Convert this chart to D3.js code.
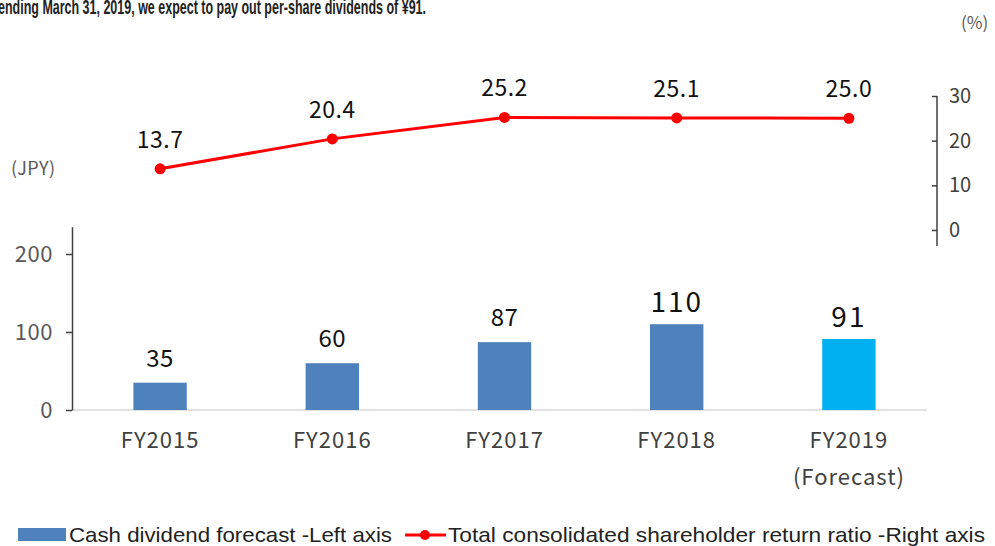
<!DOCTYPE html>
<html>
<head>
<meta charset="utf-8">
<script src="https://cdn.jsdelivr.net/npm/d3@7"></script>
<style>
  html, body { margin: 0; padding: 0; background: #fff; }
  svg { display: block; }
</style>
</head>
<body>
<div id="chart"></div>
<script>
const categories = ["FY2015", "FY2016", "FY2017", "FY2018", "FY2019"];
const categorySub = ["", "", "", "", "(Forecast)"];
const dividends = [35, 60, 87, 110, 91];
const returnRatio = [13.7, 20.4, 25.2, 25.1, 25.0];
const leftTicks = [0, 100, 200];
const rightTicks = [0, 10, 20, 30];
const headline = "ending March 31, 2019, we expect to pay out per-share dividends of ¥91.";
const legendLabels = ["Cash dividend forecast -Left axis", "Total consolidated shareholder return ratio -Right axis"];

const W = 995, H = 546;
const jpFont = "'Noto Sans CJK JP', 'Noto Sans', sans-serif";
const narrowFont = "'Liberation Sans', 'Arial', sans-serif";

const svg = d3.select("#chart").append("svg")
    .attr("width", W)
    .attr("height", H);

// headline, partly cut off at the top like in the slide
svg.append("text")
    .attr("x", -2)
    .attr("y", 14)
    .attr("font-family", narrowFont)
    .attr("font-weight", "bold")
    .attr("font-size", 21)
    .attr("textLength", 428)
    .attr("lengthAdjust", "spacingAndGlyphs")
    .attr("fill", "#222")
    .text(headline);

// scales
const x = d3.scaleBand()
    .domain(categories)
    .range([74, 935])
    .paddingInner(0.69)
    .paddingOuter(0.345);

const yBar = d3.scaleLinear().domain([0, 235]).range([410, 226.7]);
const yLine = d3.scaleLinear().domain([0, 30]).range([230, 96]);

// baseline
svg.append("line")
    .attr("x1", 72).attr("x2", 927)
    .attr("y1", yBar(0)).attr("y2", yBar(0))
    .attr("stroke", "#d9d9d9").attr("stroke-width", 1.5);

// left axis
const leftAxis = svg.append("g")
    .attr("transform", "translate(72,0)")
    .call(d3.axisLeft(yBar).tickValues(leftTicks).tickSizeInner(6).tickSizeOuter(0).tickPadding(13));
leftAxis.select(".domain").attr("stroke", "#404040").attr("stroke-width", 1.5);
leftAxis.selectAll(".tick line").attr("stroke", "#404040").attr("stroke-width", 1.5);
leftAxis.selectAll(".tick text")
    .attr("font-family", jpFont).attr("font-size", 22).attr("letter-spacing", 0.5).attr("fill", "#595959");

// right axis
const rightAxis = svg.append("g")
    .attr("transform", "translate(937,0)");
rightAxis.call(d3.axisRight(yLine).tickValues(rightTicks).tickSizeInner(0).tickSizeOuter(0).tickPadding(12));
rightAxis.select(".domain").remove();
rightAxis.append("line")
    .attr("x1", 0).attr("x2", 0)
    .attr("y1", yLine(30)).attr("y2", yLine(0) + 16)
    .attr("stroke", "#404040").attr("stroke-width", 1.5);
rightAxis.selectAll(".tick").append("line")
    .attr("x1", -5).attr("x2", 0)
    .attr("stroke", "#404040").attr("stroke-width", 1.5);
rightAxis.selectAll(".tick text")
    .attr("font-family", jpFont).attr("font-size", 20).attr("fill", "#404040");

// unit labels
svg.append("text")
    .attr("x", 11).attr("y", 175)
    .attr("font-family", jpFont).attr("font-size", 18).attr("letter-spacing", 0.5).attr("fill", "#595959")
    .text("(JPY)");
svg.append("text")
    .attr("x", 961).attr("y", 29)
    .attr("font-family", jpFont).attr("font-size", 17).attr("fill", "#595959")
    .text("(%)");

// bars
svg.selectAll("rect.bar")
    .data(dividends)
    .enter()
    .append("rect")
    .attr("class", "bar")
    .attr("x", (d, i) => x(categories[i]))
    .attr("width", x.bandwidth())
    .attr("y", d => yBar(d))
    .attr("height", d => yBar(0) - yBar(d))
    .attr("fill", (d, i) => i === categories.length - 1 ? "#00B0F0" : "#4F81BD");

// bar labels
svg.selectAll("text.bar-label")
    .data(dividends)
    .enter()
    .append("text")
    .attr("class", "bar-label")
    .attr("x", (d, i) => x(categories[i]) + x.bandwidth() / 2)
    .attr("y", (d, i) => yBar(d) - (i >= 3 ? 12 : 16))
    .attr("text-anchor", "middle")
    .attr("font-family", jpFont)
    .attr("font-size", (d, i) => i >= 3 ? 28 : 24)
    .attr("letter-spacing", (d, i) => i >= 3 ? 2 : 0.5)
    .attr("fill", "#111")
    .text(d => d);

// category labels
const cats = svg.selectAll("g.cat")
    .data(categories)
    .enter()
    .append("g")
    .attr("class", "cat")
    .attr("transform", d => `translate(${x(d) + x.bandwidth() / 2},0)`);
cats.append("text")
    .attr("y", 448)
    .attr("text-anchor", "middle")
    .attr("font-family", jpFont).attr("font-size", 22).attr("letter-spacing", 1)
    .attr("fill", "#404040")
    .text(d => d);
cats.append("text")
    .attr("y", 485)
    .attr("text-anchor", "middle")
    .attr("font-family", jpFont).attr("font-size", 22).attr("letter-spacing", 1)
    .attr("fill", "#404040")
    .text((d, i) => categorySub[i]);

// ratio line
const line = d3.line()
    .x((d, i) => x(categories[i]) + x.bandwidth() / 2)
    .y(d => yLine(d));

svg.append("path")
    .datum(returnRatio)
    .attr("d", line)
    .attr("fill", "none")
    .attr("stroke", "#FF0000")
    .attr("stroke-width", 3);

svg.selectAll("circle.pt")
    .data(returnRatio)
    .enter()
    .append("circle")
    .attr("class", "pt")
    .attr("cx", (d, i) => x(categories[i]) + x.bandwidth() / 2)
    .attr("cy", d => yLine(d))
    .attr("r", 5.5)
    .attr("fill", "#FF0000");

svg.selectAll("text.pt-label")
    .data(returnRatio)
    .enter()
    .append("text")
    .attr("class", "pt-label")
    .attr("x", (d, i) => x(categories[i]) + x.bandwidth() / 2)
    .attr("y", d => yLine(d) - 21)
    .attr("text-anchor", "middle")
    .attr("font-family", jpFont).attr("font-size", 23).attr("letter-spacing", 0.5)
    .attr("fill", "#111")
    .text(d => d.toFixed(1));

// legend
const legend = svg.append("g").attr("transform", "translate(0,535)");
legend.append("rect")
    .attr("x", 18).attr("y", -7).attr("width", 48).attr("height", 13)
    .attr("fill", "#4F81BD");
legend.append("text")
    .attr("x", 69).attr("y", 7)
    .attr("font-family", narrowFont).attr("font-size", 21)
    .attr("textLength", 323).attr("lengthAdjust", "spacingAndGlyphs")
    .attr("fill", "#222")
    .text(legendLabels[0]);
legend.append("line")
    .attr("x1", 405).attr("x2", 446).attr("y1", 0).attr("y2", 0)
    .attr("stroke", "#FF0000").attr("stroke-width", 3);
legend.append("circle")
    .attr("cx", 425).attr("cy", 0).attr("r", 5).attr("fill", "#FF0000");
legend.append("text")
    .attr("x", 448).attr("y", 7)
    .attr("font-family", narrowFont).attr("font-size", 21)
    .attr("textLength", 537).attr("lengthAdjust", "spacingAndGlyphs")
    .attr("fill", "#222")
    .text(legendLabels[1]);
</script>
</body>
</html>
